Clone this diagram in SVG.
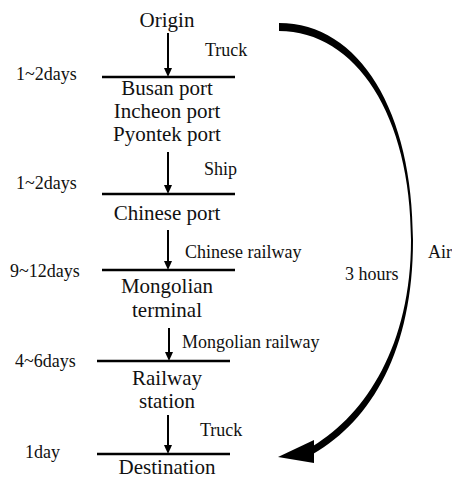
<svg xmlns="http://www.w3.org/2000/svg" width="452" height="477" viewBox="0 0 452 477">
<rect width="452" height="477" fill="#fff"/>
<g id="origin"><text x="167" y="27" font-family="Liberation Serif" font-size="21" text-anchor="middle" fill="#111">Origin</text></g>
<g id="ports"><text x="167" y="95" font-family="Liberation Serif" font-size="21" text-anchor="middle" fill="#111">Busan port</text><text x="167" y="118" font-family="Liberation Serif" font-size="21" text-anchor="middle" fill="#111">Incheon port</text><text x="167" y="141" font-family="Liberation Serif" font-size="21" text-anchor="middle" fill="#111">Pyontek port</text></g>
<g id="chinese-port"><text x="167" y="220" font-family="Liberation Serif" font-size="21" text-anchor="middle" fill="#111">Chinese port</text></g>
<g id="mongolian-terminal"><text x="167" y="293" font-family="Liberation Serif" font-size="21" text-anchor="middle" fill="#111">Mongolian</text><text x="167" y="317" font-family="Liberation Serif" font-size="21" text-anchor="middle" fill="#111">terminal</text></g>
<g id="railway-station"><text x="167" y="385" font-family="Liberation Serif" font-size="21" text-anchor="middle" fill="#111">Railway</text><text x="167" y="408" font-family="Liberation Serif" font-size="21" text-anchor="middle" fill="#111">station</text></g>
<g id="destination"><text x="167" y="474" font-family="Liberation Serif" font-size="21" text-anchor="middle" fill="#111">Destination</text></g>
<g id="connectors">
<g stroke="#000" stroke-width="2.5" fill="none">
<line x1="102" y1="77" x2="235" y2="77"/>
<line x1="102" y1="194" x2="235" y2="194"/>
<line x1="102" y1="270" x2="235" y2="270"/>
<line x1="97" y1="361" x2="230" y2="361"/>
<line x1="97" y1="454" x2="230" y2="454"/>
<line x1="168" y1="33" x2="168" y2="70" stroke-width="2"/>
<line x1="168" y1="152" x2="168" y2="187" stroke-width="2"/>
<line x1="168" y1="230" x2="168" y2="263" stroke-width="2"/>
<line x1="169" y1="328" x2="169" y2="354" stroke-width="2"/>
<line x1="168" y1="415" x2="168" y2="447" stroke-width="2"/>
</g>
<g fill="#000">
<polygon points="164,68 168,77 172,68"/>
<polygon points="164,185 168,194 172,185"/>
<polygon points="164,261 168,270 172,261"/>
<polygon points="165,352 169,361 173,352"/>
<polygon points="164,445 168,454 172,445"/>
<path d="M279 23 C360 23 413 112 413 240 C413 350 372 420 313 454 L313 446 C366 414 411 345 411 240 C411 116 356 31 279 31 Z"/>
<polygon points="314,440 278,457 314,463"/>
</g>
</g>
<g id="labels">
<text x="205" y="56" font-family="Liberation Serif" font-size="18" fill="#111">Truck</text>
<text x="16" y="80" font-family="Liberation Serif" font-size="18" fill="#111">1~2days</text>
<text x="204" y="175" font-family="Liberation Serif" font-size="18" fill="#111">Ship</text>
<text x="16" y="189" font-family="Liberation Serif" font-size="18" fill="#111">1~2days</text>
<text x="185" y="258" font-family="Liberation Serif" font-size="18" fill="#111">Chinese railway</text>
<text x="10" y="277" font-family="Liberation Serif" font-size="18" fill="#111">9~12days</text>
<text x="182" y="348" font-family="Liberation Serif" font-size="18" fill="#111">Mongolian railway</text>
<text x="15" y="367" font-family="Liberation Serif" font-size="18" fill="#111">4~6days</text>
<text x="200" y="436" font-family="Liberation Serif" font-size="18" fill="#111">Truck</text>
<text x="25" y="458" font-family="Liberation Serif" font-size="18" fill="#111">1day</text>
<text x="345" y="280" font-family="Liberation Serif" font-size="18" fill="#111">3 hours</text>
<text x="428" y="258" font-family="Liberation Serif" font-size="18" fill="#111">Air</text>
</g>
</svg>
